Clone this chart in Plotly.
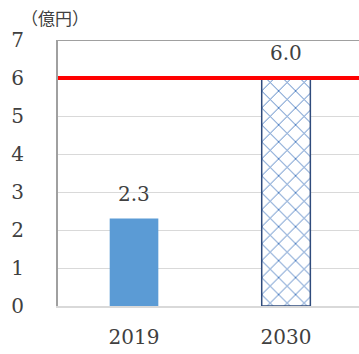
import plotly.graph_objects as go

# Data
years = ["2019", "2030"]
values = [2.3, 6.0]
value_labels = ["2.3", "6.0"]
target = 6.0
unit_label = "（億円）"

serif = "DejaVu Serif"
text_color = "#404040"

fig = go.Figure()

# 2019: solid blue bar
fig.add_trace(go.Bar(
    x=[years[0]], y=[values[0]],
    width=0.32,
    marker=dict(color="#5B9BD5", line=dict(width=0)),
    showlegend=False,
))

# 2030: cross-hatched bar
fig.add_trace(go.Bar(
    x=[years[1]], y=[values[1]],
    width=0.32,
    marker=dict(
        color="white",
        line=dict(color="#2F4B7C", width=1.5),
        pattern=dict(shape="x", size=12, solidity=0.15,
                     fgcolor="#4A7CC0", bgcolor="white", fillmode="replace"),
    ),
    showlegend=False,
))

# Target line
fig.add_shape(type="line", xref="paper", x0=0, x1=1, yref="y", y0=target, y1=target,
              line=dict(color="#FF0000", width=4), layer="above")

# Top frame line
fig.add_shape(type="line", xref="paper", x0=0, x1=1, yref="y", y0=7, y1=7,
              line=dict(color="#A0A0A0", width=2), layer="above")

# Value labels above the bars (category index on x)
annotations = [
    dict(x=i, y=v, text=lbl, xref="x", yref="y",
         xanchor="center", yanchor="bottom", yshift=11, showarrow=False,
         font=dict(family=serif, size=20, color=text_color))
    for i, (v, lbl) in enumerate(zip(values, value_labels))
]
annotations.append(dict(
    text=unit_label, xref="paper", yref="paper",
    x=-0.128, y=1.0, xanchor="left", yanchor="bottom", yshift=8,
    showarrow=False,
    font=dict(family="Noto Sans CJK JP", size=17, color=text_color),
))

fig.update_layout(
    width=359, height=354,
    margin=dict(l=58, r=0, t=40, b=48),
    paper_bgcolor="white", plot_bgcolor="white",
    bargap=0.5,
    barmode="overlay",
    xaxis=dict(
        type="category", categoryorder="array", categoryarray=years,
        range=[-0.5, 1.48],
        showgrid=False, ticks="",
        showline=True, linecolor="#D9D9D9", linewidth=2,
        ticklabelstandoff=12,
        tickfont=dict(family=serif, size=20, color=text_color),
    ),
    yaxis=dict(
        range=[0, 7], dtick=1,
        showgrid=True, gridcolor="#D9D9D9", gridwidth=1,
        zeroline=False,
        showline=True, linecolor="#A0A0A0", linewidth=2,
        ticks="", ticklabelstandoff=28,
        tickfont=dict(family=serif, size=20, color=text_color),
    ),
    annotations=annotations,
)

fig.write_html("out.html")
